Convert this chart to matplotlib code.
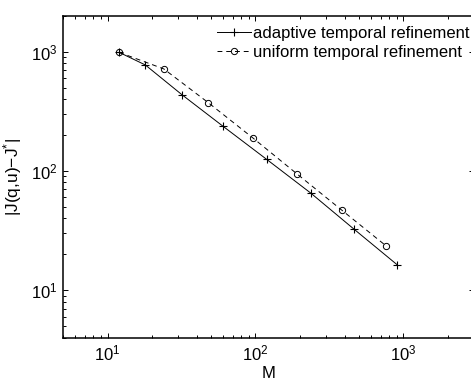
import numpy as np
import matplotlib.pyplot as plt

plt.rcParams['font.family'] = ['Liberation Sans', 'DejaVu Sans']
plt.rcParams['mathtext.fontset'] = 'custom'
plt.rcParams['mathtext.rm'] = 'Liberation Sans'
plt.rcParams['mathtext.it'] = 'Liberation Sans:italic'

# number of time steps M and error |J(q,u) - J*|
m_adaptive = [12, 18, 32, 60, 119, 236, 462, 910]
err_adaptive = [985, 773, 433, 238, 125, 65.3, 32.6, 16.3]

m_uniform = [12, 24, 48, 96, 192, 384, 768]
err_uniform = [985, 716, 373, 189, 93.8, 46.8, 23.4]

labels = ['adaptive temporal refinement', 'uniform temporal refinement']

fig = plt.figure(figsize=(4.71, 3.81), dpi=100)
ax = fig.add_axes([0.1338, 0.1136, 0.8726, 0.8452])

ax.loglog(m_adaptive, err_adaptive, 'k-', marker='+', markersize=6,
          linewidth=0.7, markeredgewidth=0.8, label=labels[0])
ax.loglog(m_uniform, err_uniform, 'k--', marker='o', markersize=4.5,
          markerfacecolor='none', linewidth=0.7, markeredgewidth=0.7,
          dashes=(5, 4), label=labels[1])

ax.set_xlim(5, 3000)
ax.set_ylim(4, 2000)

ax.tick_params(which='both', direction='in', top=True, right=True,
               labelsize=12, width=0.7)
ax.tick_params(which='major', length=3.5, pad=4)
ax.tick_params(which='minor', length=2)
for s in ax.spines.values():
    s.set_linewidth(1.1)

ax.set_xlabel('M', fontsize=12, labelpad=2)
ax.set_ylabel(r'|J(q,u)$-$J$^{*}$|', fontsize=12.5)
ax.yaxis.set_label_coords(-0.095, 0.5)

ax.legend(loc='upper left', bbox_to_anchor=(0.362, 0.985), frameon=False,
          fontsize=12.0, handlelength=2.05, handletextpad=0.15,
          borderpad=0.3, labelspacing=0.28, borderaxespad=0)

fig.savefig('out.png', dpi=100)
